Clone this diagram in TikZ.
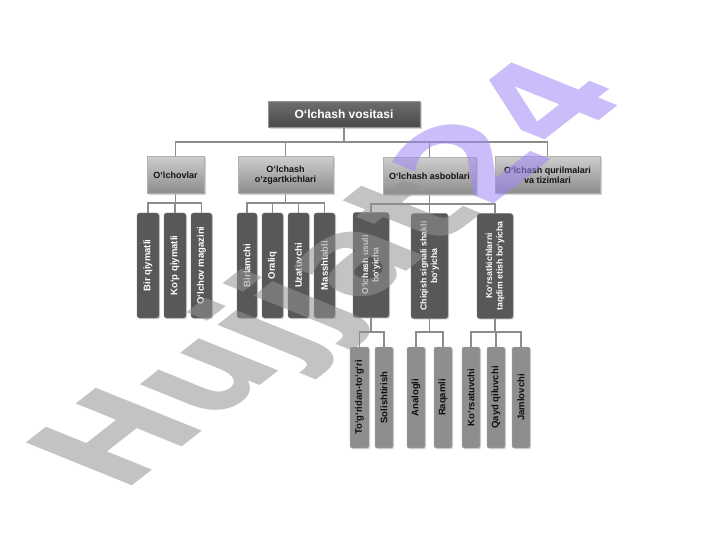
\documentclass[tikz,border=0pt]{standalone}
\usepackage{fontspec}
\setmainfont{Liberation Sans}
\newfontfamily\wmfont{DejaVu Sans}
\usetikzlibrary{shadows}
\definecolor{linec}{RGB}{140,140,140}
\definecolor{topA}{RGB}{110,110,110}
\definecolor{topB}{RGB}{72,72,72}
\definecolor{catA}{RGB}{205,205,205}
\definecolor{catB}{RGB}{140,140,140}
\definecolor{midc}{RGB}{88,88,88}
\definecolor{leafc}{RGB}{142,142,142}
\definecolor{wmgrey}{RGB}{147,147,147}
\definecolor{wmpurple}{RGB}{160,135,245}
\tikzset{
  conn/.style={draw=linec, line width=1.6pt},
  topbox/.style={draw={rgb,255:red,150;green,150;blue,150}, top color=topA, bottom color=topB,
    text=white, font=\bfseries\fontsize{12}{13}\selectfont, inner sep=0pt,
    minimum width=152pt, minimum height=26pt,
    drop shadow={shadow xshift=1.5pt, shadow yshift=-1.5pt, opacity=0.35}},
  catbox/.style={draw={rgb,255:red,175;green,175;blue,175}, top color=catA, bottom color=catB,
    text={rgb,255:red,20;green,20;blue,20}, font=\bfseries\fontsize{9}{10}\selectfont,
    align=center, inner sep=0pt, minimum height=37pt,
    drop shadow={shadow xshift=1.5pt, shadow yshift=-1.5pt, opacity=0.35}},
  midbox/.style={draw={rgb,255:red,125;green,125;blue,125}, fill=midc, rounded corners=2.5pt,
    text=white, font=\bfseries\fontsize{9.5}{10.5}\selectfont, align=center, inner sep=0pt,
    rotate=90, minimum width=105pt,
    drop shadow={shadow xshift=1.2pt, shadow yshift=-1.2pt, opacity=0.3}},
  leafbox/.style={draw={rgb,255:red,175;green,175;blue,175}, fill=leafc, rounded corners=2pt,
    text={rgb,255:red,15;green,15;blue,15}, font=\bfseries\fontsize{9.5}{10.5}\selectfont,
    inner sep=0pt, rotate=90, minimum width=101pt,
    drop shadow={shadow xshift=1.2pt, shadow yshift=-1.2pt, opacity=0.3}},
}
\begin{document}
\begin{tikzpicture}[x=1pt,y=-1pt]
\useasboundingbox[fill=white] (0,0) rectangle (720,540);

% level 1
\node[topbox] (top) at (344,114.5) {O‘lchash vositasi};

% level 2
\node[catbox, minimum width=57pt] (ol) at (175.5,175) {O‘lchovlar};
\node[catbox, minimum width=95pt] (oz) at (285.5,175) {O‘lchash\\o‘zgartkichlari};
\node[catbox, minimum width=93pt] (as) at (429.5,176) {O‘lchash asboblari};
\node[catbox, minimum width=105pt] (qu) at (547.5,175) {O‘lchash qurilmalari\\va tizimlari};

% level 3
\node[midbox, minimum height=22pt] (a1) at (148,265.5) {Bir qiymatli};
\node[midbox, minimum height=22pt] (a2) at (175,265.5) {Ko‘p qiymatli};
\node[midbox, minimum height=21pt] (a3) at (201.5,265.5) {O‘lchov magazini};
\node[midbox, minimum height=20pt] (b1) at (247,265.5) {Birlamchi};
\node[midbox, minimum height=21pt] (b2) at (272.5,265.5) {Oraliq};
\node[midbox, minimum height=21pt] (b3) at (298.5,265.5) {Uzatuvchi};
\node[midbox, minimum height=21pt] (b4) at (324.5,265.5) {Masshtabli};
\node[midbox, minimum height=36pt, font=\bfseries\fontsize{8.7}{10.5}\selectfont] (c1) at (371,265) {O‘lchash usuli\\bo‘yicha};
\node[midbox, minimum height=37pt, font=\bfseries\fontsize{8.7}{10.5}\selectfont] (c2) at (429.5,266) {Chiqish signali shakli\\bo‘yicha};
\node[midbox, minimum height=36pt, font=\bfseries\fontsize{8.7}{10.5}\selectfont] (c3) at (495,266) {Ko‘rsatkichlarni\\taqdim etish bo‘yicha};

% level 4
\node[leafbox, minimum height=19pt] (d1) at (359.5,397.5) {To‘g‘ridan-to‘g‘ri};
\node[leafbox, minimum height=18pt] (d2) at (384,397.5) {Solishtirish};
\node[leafbox, minimum height=18pt] (e1) at (416,397.5) {Analogli};
\node[leafbox, minimum height=18pt] (e2) at (443,397.5) {Raqamli};
\node[leafbox, minimum height=18pt] (f1) at (471,397.5) {Ko‘rsatuvchi};
\node[leafbox, minimum height=18pt] (f2) at (496,397.5) {Qayd qiluvchi};
\node[leafbox, minimum height=18pt] (f3) at (521,397.5) {Jamlovchi};

% bus coordinates
\coordinate (bus0) at (0,142);
\coordinate (bus1) at (0,203);
\coordinate (bus2) at (0,204);
\coordinate (bus3) at (0,332);

% connectors level1 -> level2
\draw[conn] (top.south) -- (top.south |- bus0);
\draw[conn] (ol.north) |- (qu.north |- bus0) -- (qu.north);
\draw[conn] (oz.north) -- (oz.north |- bus0);
\draw[conn] (as.north) -- (as.north |- bus0);

% level2 -> level3
\draw[conn] (ol.south) -- (ol.south |- bus1);
\draw[conn] (a1.east) |- (a3.east |- bus1) -- (a3.east);
\draw[conn] (a2.east) -- (a2.east |- bus1);

\draw[conn] (oz.south) -- (oz.south |- bus1);
\draw[conn] (b1.east) |- (b4.east |- bus1) -- (b4.east);
\draw[conn] (b2.east) -- (b2.east |- bus1);
\draw[conn] (b3.east) -- (b3.east |- bus1);

\draw[conn] (as.south) -- (as.south |- bus2);
\draw[conn] (c1.east) |- (c3.east |- bus2) -- (c3.east);
\draw[conn] (c2.east) -- (c2.east |- bus2);

% level3 -> level4
\draw[conn] (c1.west) -- (c1.west |- bus3);
\draw[conn] (d1.east) |- (d2.east |- bus3) -- (d2.east);
\draw[conn] (c2.west) -- (c2.west |- bus3);
\draw[conn] (e1.east) |- (e2.east |- bus3) -- (e2.east);
\draw[conn] (c3.west) -- (c3.west |- bus3);
\draw[conn] (f1.east) |- (f3.east |- bus3) -- (f3.east);
\draw[conn] (f2.east) -- (f2.east |- bus3);

% watermark
\begin{scope}[shift={(122,494)}, rotate=38, xslant=-0.577]
\node[transform shape, anchor=base west, inner sep=0pt, text opacity=0.55,
      font=\wmfont\bfseries\fontsize{136}{136}\selectfont] (wm) at (0,0)
      {\textcolor{wmgrey}{Hujjat}\textcolor{wmpurple}{24}};
\end{scope}
\end{tikzpicture}
\end{document}
